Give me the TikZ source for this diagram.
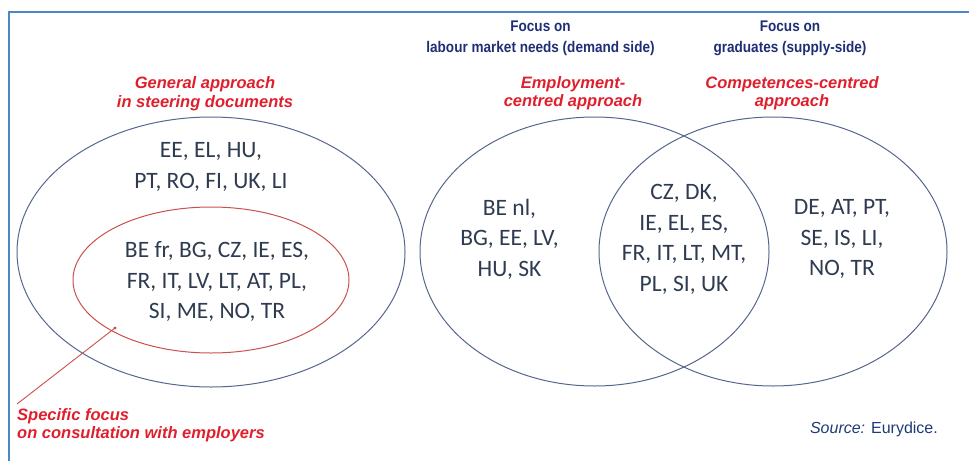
\documentclass[tikz,border=0pt]{standalone}
\usepackage{fontspec}
\setmainfont{Liberation Sans}
\newfontfamily\listfont{Carlito}
\newfontfamily\headfont[FakeStretch = 0.88]{Liberation Sans}

\definecolor{framecol}{HTML}{4A86C8}
\definecolor{setcol}{HTML}{56668C}
\definecolor{innercol}{HTML}{C9504F}
\definecolor{labelred}{HTML}{E01F2D}
\definecolor{headblue}{HTML}{1F2F75}
\definecolor{listcol}{HTML}{2F3B50}
\definecolor{srccol}{HTML}{1F3A7A}

\tikzset{
  setline/.style = {draw = setcol, line width = 1pt},
  approach/.style = {text = labelred, align = center, inner sep = 0pt,
    font = \fontsize{16.5}{18.5}\selectfont\bfseries\itshape},
  focus/.style = {text = headblue, align = center, inner sep = 0pt,
    font = \headfont\fontsize{15.4}{21}\selectfont\bfseries},
  countries/.style = {text = listcol, align = center, inner sep = 0pt,
    font = \listfont\fontsize{23.5}{30.5}\selectfont}
}

\begin{document}
\begin{tikzpicture}[x = 1pt, y = -1pt]
  \useasboundingbox (0, 0) rectangle (969, 461);
  % frame lines (top and left)
  \draw[framecol, line width = 1.6pt] (9, 461) -- (9, 12) -- (969, 12);

  % general approach and its inner set
  \draw[setline] (211, 252) ellipse [x radius = 194pt, y radius = 135pt];
  \draw[innercol, line width = 1pt] (211, 280) ellipse [x radius = 138pt, y radius = 73pt];
  \node[approach] (general) at (205, 93.5) {General approach\\in steering documents};
  \node[countries] (generallist) at (211, 167) {EE, EL, HU,\\PT, RO, FI, UK, LI};
  \node[countries] (consultlist) at (217, 281.5) {BE fr, BG, CZ, IE, ES,\\FR, IT, LV, LT, AT, PL,\\SI, ME, NO, TR};

  % pointer to the inner set
  \coordinate (dot) at (115, 328);
  \coordinate (leadend) at (17, 404);
  \fill[innercol] (dot) circle [radius = 1.6pt];
  \draw[innercol, line width = 0.9pt] (dot) -- (leadend);
  \node[approach, align = left, anchor = west] (consult) at (17, 425)
    {Specific focus\\on consultation with employers};

  % the two overlapping approaches
  \foreach \cx/\rx in {594.5/174.5, 773/174}{
    \draw[setline] (\cx, 251.5) ellipse [x radius = \rx pt, y radius = 134.5pt];
  }
  \node[focus] (demand) at (540.5, 38.5) {Focus on\\labour market needs (demand side)};
  \node[focus] (supply) at (790, 38.5) {Focus on\\graduates (supply-side)};
  \node[approach] (employ) at (573, 93) {Employment-\\centred approach};
  \node[approach] (compet) at (792, 93) {Competences-centred\\approach};
  \node[countries] (employlist) at (509.5, 239) {BE nl,\\BG, EE, LV,\\HU, SK};
  \node[countries] (bothlist) at (684, 239.5) {CZ, DK,\\IE, EL, ES,\\FR, IT, LT, MT,\\PL, SI, UK};
  \node[countries] (competlist) at (842, 239) {DE, AT, PT,\\SE, IS, LI,\\NO, TR};

  % source
  \node[text = srccol, inner sep = 0pt, anchor = east, font = \fontsize{16}{18}\selectfont]
    (source) at (938, 429) {{\itshape Source:} Eurydice.};
\end{tikzpicture}
\end{document}
